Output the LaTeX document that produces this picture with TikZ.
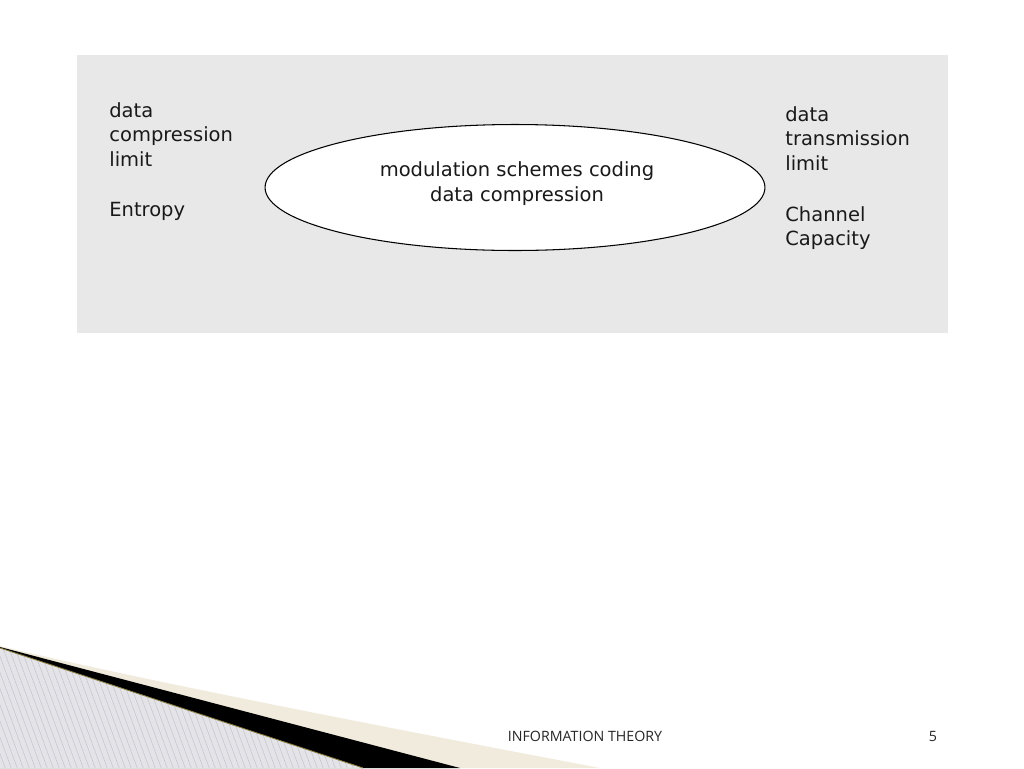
\documentclass[tikz,border=0pt]{standalone}
\usepackage{fontspec}
\newfontfamily\diagfont{DejaVu Sans}
\newfontfamily\footfont{Open Sans}
\usetikzlibrary{positioning,shapes.geometric}
\definecolor{panelgray}{RGB}{232,232,232}
\definecolor{creamband}{RGB}{240,235,220}
\definecolor{stripegray}{RGB}{228,228,232}
\definecolor{stripeline}{RGB}{196,196,204}
\definecolor{oliveline}{RGB}{140,128,70}

\begin{document}
\begin{tikzpicture}[x=0.02cm, y=-0.02cm,
    textnode/.style={inner sep=0pt, align=left, anchor=north west, text=black!90, font=\diagfont\fontsize{11.1pt}{13.9pt}\selectfont},
    ovalnode/.style={ellipse, draw=black, fill=white, line width=0.6pt, minimum width=10cm, minimum height=2.52cm, inner sep=0pt},
    footnode/.style={inner sep=0pt, text=black!85, font=\footfont\fontsize{8.1pt}{9pt}\selectfont}
    ]
        \useasboundingbox (0,0) rectangle (1024,768);

        %Panel
        \fill[panelgray] (77,55) rectangle (948,333);

        %Nodes
        \node[ovalnode]
            (oval)      at (515,187.5)  {};
        \node[textnode, anchor=center, align=center]
            (ovaltext)  at (517,183.5)  {modulation schemes coding\\data compression};
        \node[textnode]
            (complim)   at (109,102)    {data\\compression\\limit};
        \node[textnode, below=0.72cm of complim.south west, anchor=north west]
            (entropy)                   {Entropy};
        \node[textnode]
            (translim)  at (785,106)    {data\\transmission\\limit};
        \node[textnode, below=0.72cm of translim.south west, anchor=north west]
            (capacity)                  {Channel\\Capacity};

        %Corner band
        \fill[creamband] (0,646) .. controls (150,682) and (400,730) .. (600,768) -- (0,768) -- cycle;
        \fill[black] (0,647) -- (460,768) -- (0,768) -- cycle;
        \fill[stripegray] (0,648) -- (363,768) -- (0,768) -- cycle;
        \begin{scope}
            \clip (0,648) -- (363,768) -- (0,768) -- cycle;
            \foreach \sx in {-60,-54,...,370}
                \draw[stripeline, line width=0.3pt] (\sx,640) -- ++(48,130);
        \end{scope}
        \draw[oliveline, line width=0.5pt] (0,648) -- (363,768);

        %Footer
        \node[footnode]
            (foottitle) at (585,736)    {INFORMATION THEORY};
        \node[footnode]
            (pagenum)   at (933,736)    {5};
    \end{tikzpicture}
\end{document}
